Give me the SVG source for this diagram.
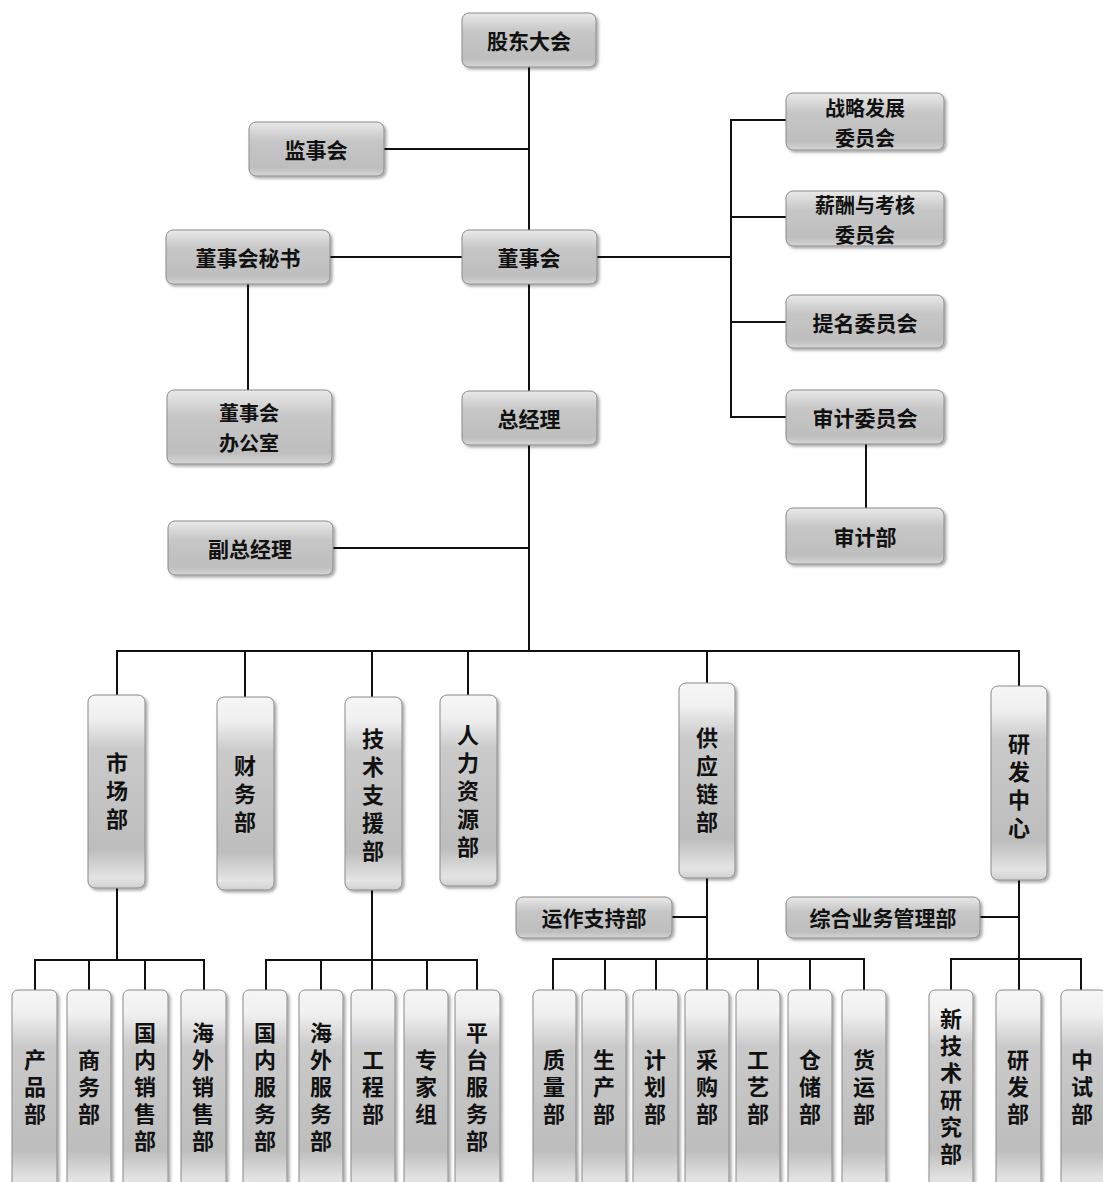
<svg xmlns="http://www.w3.org/2000/svg" width="1103" height="1182" viewBox="0 0 1103 1182">
<defs>
<linearGradient id="gh" x1="0" y1="0" x2="0" y2="1">
<stop offset="0" stop-color="#e9e9e9"/>
<stop offset="0.35" stop-color="#c6c6c6"/>
<stop offset="0.85" stop-color="#bebebe"/>
<stop offset="1" stop-color="#d6d6d6"/>
</linearGradient>
<linearGradient id="gv" x1="0" y1="0" x2="0" y2="1">
<stop offset="0" stop-color="#f6f6f6"/>
<stop offset="0.12" stop-color="#f0f0f0"/>
<stop offset="0.28" stop-color="#cacaca"/>
<stop offset="0.8" stop-color="#bdbdbd"/>
<stop offset="0.95" stop-color="#e4e4e4"/>
<stop offset="1" stop-color="#d0d0d0"/>
</linearGradient>
<filter id="sh" x="-10%" y="-10%" width="130%" height="130%">
<feDropShadow dx="2" dy="2" stdDeviation="1.5" flood-color="#000" flood-opacity="0.35"/>
</filter>
<style>
.h{fill:url(#gh);stroke:#8a8a8a;stroke-width:1;filter:url(#sh)}
.v{fill:url(#gv);stroke:#8a8a8a;stroke-width:1;filter:url(#sh)}
text{font-family:"Noto Sans CJK SC","Noto Sans",sans-serif;font-weight:bold;fill:#111;text-anchor:middle;dominant-baseline:central}
.t{font-size:21px}
.t2{font-size:20px}
.m{font-size:22px;writing-mode:vertical-rl;letter-spacing:6px}
.s{font-size:22px;writing-mode:vertical-rl;letter-spacing:5px}
.c line{stroke:#111;stroke-width:2;fill:none}
</style>
</defs>
<rect width="1103" height="1182" fill="#fff"/>

<g class="c" id="connectors">
<line x1="529" y1="67" x2="529" y2="230"/>
<line x1="384" y1="149" x2="529" y2="149"/>
<line x1="330" y1="257" x2="462" y2="257"/>
<line x1="597" y1="257" x2="731" y2="257"/>
<line x1="731" y1="120" x2="731" y2="417"/>
<line x1="730" y1="120" x2="786" y2="120"/>
<line x1="731" y1="217" x2="786" y2="217"/>
<line x1="731" y1="322" x2="786" y2="322"/>
<line x1="730" y1="417" x2="786" y2="417"/>
<line x1="248" y1="284" x2="248" y2="390"/>
<line x1="529" y1="284" x2="529" y2="391"/>
<line x1="866" y1="444" x2="866" y2="508"/>
<line x1="529" y1="445" x2="529" y2="651"/>
<line x1="333" y1="548" x2="529" y2="548"/>
<line x1="116" y1="651" x2="1020" y2="651"/>
<line x1="117" y1="650" x2="117" y2="695"/>
<line x1="245" y1="650" x2="245" y2="697"/>
<line x1="372" y1="650" x2="372" y2="697"/>
<line x1="468" y1="650" x2="468" y2="695"/>
<line x1="707" y1="650" x2="707" y2="683"/>
<line x1="1019" y1="650" x2="1019" y2="686"/>
<line x1="117" y1="888" x2="117" y2="960"/>
<line x1="34" y1="960" x2="205" y2="960"/>
<line x1="35" y1="959" x2="35" y2="990"/>
<line x1="89" y1="959" x2="89" y2="990"/>
<line x1="145" y1="959" x2="145" y2="990"/>
<line x1="204" y1="959" x2="204" y2="990"/>
<line x1="372" y1="890" x2="372" y2="990"/>
<line x1="265" y1="960" x2="478" y2="960"/>
<line x1="266" y1="959" x2="266" y2="990"/>
<line x1="321" y1="959" x2="321" y2="990"/>
<line x1="427" y1="959" x2="427" y2="990"/>
<line x1="477" y1="959" x2="477" y2="990"/>
<line x1="707" y1="878" x2="707" y2="990"/>
<line x1="672" y1="917" x2="707" y2="917"/>
<line x1="552" y1="959" x2="865" y2="959"/>
<line x1="553" y1="958" x2="553" y2="990"/>
<line x1="605" y1="958" x2="605" y2="990"/>
<line x1="656" y1="958" x2="656" y2="990"/>
<line x1="758" y1="958" x2="758" y2="990"/>
<line x1="810" y1="958" x2="810" y2="990"/>
<line x1="864" y1="958" x2="864" y2="990"/>
<line x1="1019" y1="880" x2="1019" y2="990"/>
<line x1="980" y1="917" x2="1019" y2="917"/>
<line x1="950" y1="959" x2="1082" y2="959"/>
<line x1="951" y1="958" x2="951" y2="990"/>
<line x1="1081" y1="958" x2="1081" y2="990"/>
</g>

<g id="n-gdh"><rect class="h" x="462" y="13" width="134" height="54" rx="7"/><text class="t" x="529" y="40">股东大会</text></g>
<g id="n-jsh"><rect class="h" x="249" y="122" width="135" height="54" rx="7"/><text class="t" x="316" y="149">监事会</text></g>
<g id="n-dshms"><rect class="h" x="166" y="230" width="164" height="54" rx="7"/><text class="t" x="248" y="257">董事会秘书</text></g>
<g id="n-dsh"><rect class="h" x="462" y="230" width="135" height="54" rx="7"/><text class="t" x="529" y="257">董事会</text></g>
<g id="n-dshbgs"><rect class="h" x="167" y="390" width="165" height="74" rx="7"/><text class="t2"><tspan x="249" y="412">董事会</tspan><tspan x="249" y="441.5">办公室</tspan></text></g>
<g id="n-zjl"><rect class="h" x="462" y="391" width="135" height="54" rx="7"/><text class="t" x="529" y="418">总经理</text></g>
<g id="n-fzjl"><rect class="h" x="168" y="521" width="165" height="54" rx="7"/><text class="t" x="250" y="548">副总经理</text></g>
<g id="n-zlfz"><rect class="h" x="786" y="93" width="158" height="57" rx="7"/><text class="t2"><tspan x="865" y="107">战略发展</tspan><tspan x="865" y="136.5">委员会</tspan></text></g>
<g id="n-xc"><rect class="h" x="786" y="191" width="158" height="55" rx="7"/><text class="t2"><tspan x="865" y="204">薪酬与考核</tspan><tspan x="865" y="233.5">委员会</tspan></text></g>
<g id="n-tm"><rect class="h" x="786" y="295" width="158" height="53" rx="7"/><text class="t" x="865" y="322">提名委员会</text></g>
<g id="n-sjwyh"><rect class="h" x="786" y="390" width="158" height="54" rx="7"/><text class="t" x="865" y="417">审计委员会</text></g>
<g id="n-sjb"><rect class="h" x="786" y="508" width="158" height="56" rx="7"/><text class="t" x="865" y="536">审计部</text></g>

<g id="n-scb"><rect class="v" x="88" y="695" width="57" height="193" rx="7"/><text class="m" x="117" y="794">市场部</text></g>
<g id="n-cwb"><rect class="v" x="217" y="697" width="57" height="193" rx="7"/><text class="m" x="245" y="797">财务部</text></g>
<g id="n-jszy"><rect class="v" x="345" y="697" width="57" height="193" rx="7"/><text class="m" x="373" y="798">技术支援部</text></g>
<g id="n-rlzy"><rect class="v" x="440" y="695" width="57" height="191" rx="7"/><text class="m" x="468" y="794">人力资源部</text></g>
<g id="n-gyl"><rect class="v" x="679" y="683" width="56" height="195" rx="7"/><text class="m" x="707" y="783">供应链部</text></g>
<g id="n-yfzx"><rect class="v" x="991" y="686" width="56" height="194" rx="7"/><text class="m" x="1019" y="789">研发中心</text></g>

<g id="n-yzzc"><rect class="h" x="516" y="897" width="156" height="41" rx="7"/><text class="t" x="594" y="917">运作支持部</text></g>
<g id="n-zhyw"><rect class="h" x="786" y="897" width="194" height="41" rx="7"/><text class="t" x="883" y="917">综合业务管理部</text></g>

<g id="n-cpb"><rect class="v" x="12" y="990" width="45" height="200" rx="6"/><text class="s" x="35" y="1089">产品部</text></g>
<g id="n-swb"><rect class="v" x="67" y="990" width="44" height="200" rx="6"/><text class="s" x="89" y="1089">商务部</text></g>
<g id="n-gnxs"><rect class="v" x="123" y="990" width="45" height="200" rx="6"/><text class="s" x="145" y="1089">国内销售部</text></g>
<g id="n-hwxs"><rect class="v" x="181" y="990" width="45" height="200" rx="6"/><text class="s" x="203" y="1089">海外销售部</text></g>

<g id="n-gnfw"><rect class="v" x="243" y="990" width="44" height="200" rx="6"/><text class="s" x="265" y="1089">国内服务部</text></g>
<g id="n-hwfw"><rect class="v" x="299" y="990" width="44" height="200" rx="6"/><text class="s" x="321" y="1089">海外服务部</text></g>
<g id="n-gcb"><rect class="v" x="351" y="990" width="44" height="200" rx="6"/><text class="s" x="373" y="1089">工程部</text></g>
<g id="n-zjz"><rect class="v" x="404" y="990" width="44" height="200" rx="6"/><text class="s" x="426" y="1089">专家组</text></g>
<g id="n-ptfw"><rect class="v" x="455" y="990" width="45" height="200" rx="6"/><text class="s" x="477" y="1089">平台服务部</text></g>

<g id="n-zlb"><rect class="v" x="533" y="990" width="43" height="200" rx="6"/><text class="s" x="554" y="1089">质量部</text></g>
<g id="n-scb2"><rect class="v" x="582" y="990" width="44" height="200" rx="6"/><text class="s" x="604" y="1089">生产部</text></g>
<g id="n-jhb"><rect class="v" x="633" y="990" width="45" height="200" rx="6"/><text class="s" x="655" y="1089">计划部</text></g>
<g id="n-cgb"><rect class="v" x="685" y="990" width="44" height="200" rx="6"/><text class="s" x="707" y="1089">采购部</text></g>
<g id="n-gyb"><rect class="v" x="736" y="990" width="44" height="200" rx="6"/><text class="s" x="758" y="1089">工艺部</text></g>
<g id="n-ccb"><rect class="v" x="788" y="990" width="44" height="200" rx="6"/><text class="s" x="810" y="1089">仓储部</text></g>
<g id="n-hyb"><rect class="v" x="842" y="990" width="44" height="200" rx="6"/><text class="s" x="864" y="1089">货运部</text></g>

<g id="n-xjs"><rect class="v" x="929" y="990" width="44" height="200" rx="6"/><text class="s" x="951" y="1089">新技术研究部</text></g>
<g id="n-yfb"><rect class="v" x="996" y="990" width="45" height="200" rx="6"/><text class="s" x="1018" y="1089">研发部</text></g>
<g id="n-zsb"><rect class="v" x="1061" y="990" width="45" height="200" rx="6"/><text class="s" x="1082" y="1089">中试部</text></g>
</svg>
